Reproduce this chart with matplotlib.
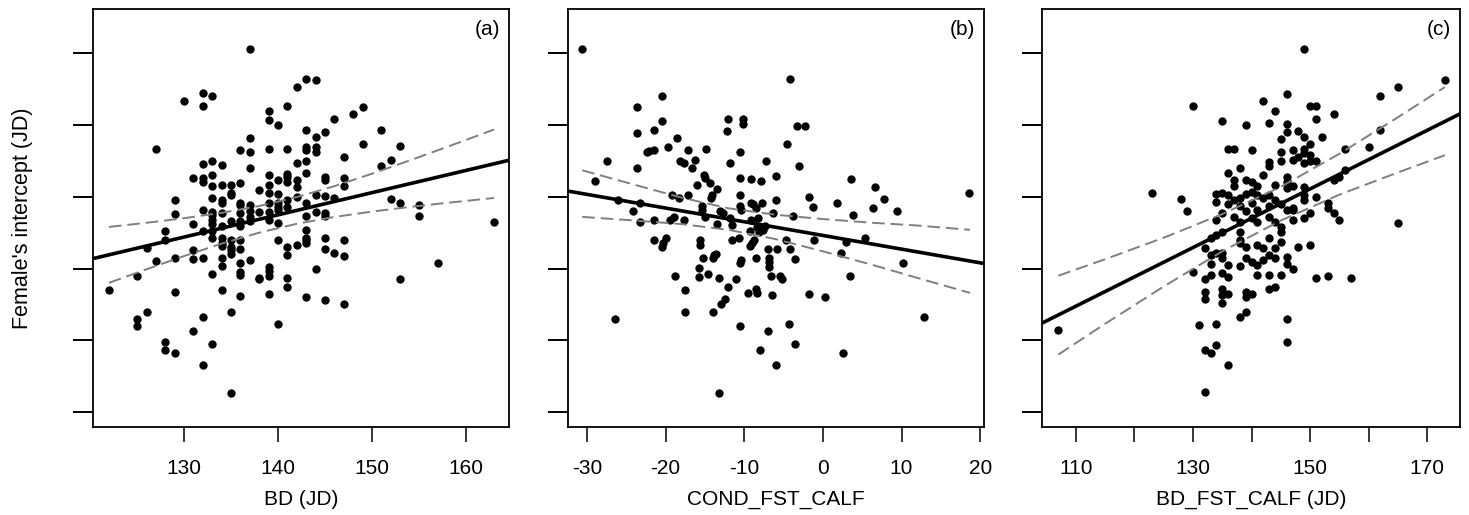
import matplotlib

matplotlib.use("Agg")
import matplotlib.pyplot as plt

plt.rcParams["font.family"] = ["Liberation Sans", "DejaVu Sans"]
plt.rcParams["axes.unicode_minus"] = False

# ---- panel (a): BD (JD) vs female's intercept ----
a_bd = [
    122,
    125, 125, 125,
    126, 126,
    127, 127,
    128, 128, 128, 128,
    129, 129, 129, 129, 129,
    130,
    131, 131, 131, 131, 131,
    132, 132, 132, 132, 132, 132, 132, 132, 132, 132,
    133, 133, 133, 133, 133, 133, 133, 133, 133, 133, 133, 133, 133,
    134, 134, 134, 134, 134, 134, 134, 134, 134, 134, 134, 134,
    135, 135, 135, 135, 135, 135, 135, 135, 135, 135,
    136, 136, 136, 136, 136, 136, 136, 136, 136, 136, 136, 136, 136,
    137, 137, 137, 137, 137, 137, 137, 137, 137,
    138, 138, 138, 138,
    139, 139, 139, 139, 139, 139, 139, 139, 139, 139, 139, 139, 139,
    140, 140, 140, 140, 140, 140, 140, 140, 140,
    141, 141, 141, 141, 141, 141, 141, 141, 141, 141, 141,
    142, 142, 142, 142, 142, 142,
    143, 143, 143, 143, 143, 143, 143, 143, 143, 143, 143, 143, 143,
    144, 144, 144, 144, 144, 144, 144,
    145, 145, 145, 145, 145, 145, 145, 145, 145,
    146, 146, 146,
    147, 147, 147, 147, 147, 147,
    148,
    149, 149,
    151, 151,
    152, 152,
    153, 153, 153,
    155, 155,
    157,
    163,
]
a_fem = [
    -3.0,
    -1.0, -7.0, -8.0,
    2.8, -6.0,
    16.7, 1.0,
    5.3, 4.0, -10.2, -11.3,
    9.6, 7.6, 1.5, -3.3, -11.8,
    23.3,
    12.6, 6.2, 2.6, 1.3, -8.7,
    24.5, 22.7, 14.6, 12.6, 12.1, 8.1, 5.3, 1.5, -6.7, -13.5,
    24.0, 15.0, 13.0, 11.5, 9.8, 7.9, 7.4, 6.7, 6.2, 5.3, 4.3, -0.7, -10.5,
    14.4, 11.7, 9.5, 9.1, 7.7, 5.9, 4.3, 3.5, 3.1, 1.5, 0.4, -3.0,
    11.7, 10.5, 10.2, 6.6, 4.0, 3.0, 2.6, 2.0, -6.0, -17.3,
    16.5, 11.9, 9.2, 8.8, 7.7, 6.6, 5.9, 4.0, 2.7, 0.8, -0.5, -0.9, -3.8,
    30.6, 18.2, 16.2, 14.0, 8.8, 8.0, 7.2, 6.6, 1.2,
    11.0, 7.9, -1.3, -1.5,
    22.0, 20.7, 16.6, 13.0, 11.7, 10.5, 9.2, 7.9, 6.7, 0.2, -0.3, -1.1, -3.5,
    20.0, 12.3, 10.4, 9.1, 8.6, 8.1, 6.4, 4.0, -7.7,
    22.7, 16.6, 13.2, 12.8, 12.0, 9.5, 8.6, 3.0, 1.9, -1.3, -2.6,
    25.3, 14.7, 12.3, 11.4, 10.0, 3.3,
    26.5, 19.3, 17.0, 16.5, 15.0, 13.3, 9.2, 7.3, 5.4, 4.3, 4.0, 3.5, -4.0,
    26.3, 18.4, 17.0, 16.3, 10.2, 7.9, 0.0,
    19.0, 12.8, 12.3, 10.1, 7.7, 7.3, 4.3, 2.7, -4.4,
    20.9, 9.8, 2.2,
    15.5, 12.6, 11.5, 4.0, 1.8, -4.9,
    21.5,
    22.5, 17.3,
    19.3, 14.3,
    15.2, 9.7,
    17.1, 9.1, -1.4,
    8.9, 7.3,
    0.8,
    6.5,
]
a_fit = [(120.35, 1.4), (164.6, 15.1)]
a_band_x = [122, 126, 130, 134, 138, 142, 146, 150, 154, 158, 163]
a_band_hi = [5.80, 6.38, 7.02, 7.77, 8.72, 9.96, 11.49, 13.22, 15.06, 16.96, 19.38]
a_band_lo = [-2.00, -0.10, 1.74, 3.47, 5.00, 6.24, 7.19, 7.94, 8.58, 9.16, 9.84]

# ---- panel (b): COND_FST_CALF vs female's intercept ----
b_cond = [
    -30.6, -29.0, -27.5, -26.4, -26.0, -24.2, -23.6, -23.6, -23.6, -23.3,
    -23.2, -22.3, -22.1, -21.5, -21.5, -21.5, -21.5, -20.5, -20.5, -20.5,
    -20.3, -19.9, -19.7, -19.5, -19.2, -18.9, -18.8, -18.5, -18.3, -18.2,
    -17.7, -17.6, -17.5, -17.5, -17.2, -17.2, -16.6, -16.3, -16.0, -15.8,
    -15.8, -15.6, -15.6, -15.4, -15.4, -15.2, -15.1, -15.0, -15.0, -14.8,
    -14.6, -14.4, -14.2, -14.1, -14.0, -14.0, -13.8, -13.6, -13.5, -13.4,
    -13.2, -13.2, -13.1, -13.0, -12.7, -12.5, -12.2, -12.1, -12.0, -11.8,
    -11.8, -11.6, -11.5, -11.0, -10.7, -10.6, -10.5, -10.5, -10.5, -10.5,
    -10.5, -10.4, -10.4, -10.2, -10.2, -9.5, -9.3, -9.3, -9.2, -9.1,
    -9.1, -9.0, -8.9, -8.8, -8.5, -8.5, -8.5, -8.4, -8.4, -8.2,
    -8.1, -8.0, -7.9, -7.7, -7.6, -7.4, -7.2, -7.0, -7.0, -6.9,
    -6.9, -6.8, -6.6, -6.5, -6.3, -6.0, -5.9, -5.9, -5.8, -5.5,
    -5.2, -4.7, -4.5, -4.3, -4.2, -4.2, -3.8, -3.5, -3.5, -3.3,
    -3.0, -2.3, -1.7, -1.7, -1.2, -1.1, 0.3, 1.8, 2.3, 2.5,
    3.0, 3.5, 3.6, 3.8, 5.4, 6.4, 6.6, 7.8, 9.4, 10.2,
    12.8, 18.6,
]
b_fem = [
    30.6, 12.2, 15.0, -7.0, 9.5, 8.0, 22.5, 18.9, 14.0, 9.1,
    6.5, 16.3, 16.4, 19.3, 16.5, 6.7, 4.0, 24.0, 20.6, 3.0,
    3.5, 4.3, 17.0, 6.7, 10.2, 7.2, -1.1, 18.2, 9.8, 15.0,
    14.7, 6.8, -3.0, -6.0, 16.5, 10.2, 14.0, 15.2, 11.7, 0.1,
    -1.2, 3.3, 4.0, 8.7, 8.1, 1.5, 13.0, 12.6, 7.2, 16.7,
    -0.7, 11.9, 9.8, 10.2, -6.0, 1.5, 1.9, 2.0, 6.2, 11.1,
    -1.3, -17.3, 8.0, -4.9, 7.7, -4.3, 19.2, 20.9, -2.6, 14.7,
    7.0, 6.1, 4.0, -1.5, 4.3, 0.8, -8.0, 12.6, 10.3, 16.3,
    8.7, 1.2, 8.2, 20.8, 20.2, -3.4, 5.3, 3.1, 6.7, 12.5,
    9.1, 3.5, 9.0, 4.0, 8.4, 1.4, -2.9, -3.4, 5.8, 7.1,
    5.1, -11.3, 12.2, 9.2, 5.4, 5.9, 15.0, -8.7, 2.7, 1.5,
    0.2, 0.9, -1.0, -3.7, 7.8, 9.6, 12.9, -13.5, 2.7, -1.0,
    -1.4, 4.0, 17.3, -7.7, 2.7, 26.5, 7.3, -10.5, 1.3, 19.9,
    14.3, 19.9, -3.6, 10.0, 8.6, 4.0, -4.0, 9.1, 2.2, -11.8,
    3.7, -1.1, 12.5, 7.5, 4.3, 8.5, 11.4, 9.7, 8.0, 0.8,
    -6.7, 10.5,
]
b_fit = [(-32.4, 10.8), (20.5, 0.7)]
b_band_x = [-30.6, -24, -18, -12, -6, 0, 6, 12, 18.7]
b_band_hi = [13.7, 11.7, 9.9, 8.4, 7.5, 6.9, 6.4, 6.0, 5.4]
b_band_lo = [7.2, 6.7, 6.2, 5.4, 4.1, 2.4, 0.6, -1.3, -3.4]

# ---- panel (c): BD_FST_CALF (JD) vs female's intercept ----
c_bd = [
    107,
    123,
    128,
    129,
    130, 130,
    131,
    132, 132, 132, 132, 132, 132,
    133, 133, 133, 133, 133,
    134, 134, 134, 134, 134, 134, 134,
    135, 135, 135, 135, 135, 135, 135, 135, 135, 135,
    136, 136, 136, 136, 136, 136, 136, 136,
    137, 137, 137, 137, 137,
    138, 138, 138, 138, 138, 138, 138, 138, 138,
    139, 139, 139, 139, 139, 139, 139, 139, 139,
    140, 140, 140, 140, 140, 140, 140,
    141, 141, 141, 141, 141, 141, 141,
    142, 142, 142, 142, 142,
    143, 143, 143, 143, 143, 143, 143, 143, 143, 143,
    144, 144, 144, 144, 144, 144, 144,
    145, 145, 145, 145, 145, 145, 145, 145,
    146, 146, 146, 146, 146, 146, 146, 146, 146, 146, 146,
    147, 147, 147, 147, 147, 147, 147,
    148, 148, 148,
    149, 149, 149, 149, 149, 149, 149, 149, 149,
    150, 150, 150, 150, 150, 150,
    151, 151, 151, 151, 151,
    152,
    153, 153, 153,
    154, 154, 154,
    155, 155,
    156, 156,
    157,
    160,
    162, 162,
    165, 165,
    173,
]
c_fem = [
    -8.6,
    10.5,
    9.7,
    8.0,
    22.7, -0.5,
    -7.9,
    -17.2, -11.3, 2.8, -1.5, -3.3, -4.3,
    -11.8, 4.2, 1.9, 0.7, -0.9,
    -10.6, -7.7, 10.4, 9.3, 6.7, 4.7, 2.1,
    20.6, 10.5, 7.7, 5.1, 2.1, 1.4, -0.6, -2.9, -3.7, -4.8,
    -13.5, 16.6, 13.3, 10.2, 9.0, 0.5, -1.2, -3.6,
    16.6, 12.4, 11.5, 9.6, 7.2,
    -6.7, 14.0, 9.9, 8.7, 6.5, 5.1, 3.5, 4.0, 0.3,
    -6.0, 20.0, 12.4, 10.4, 8.0, 3.0, 1.4, -3.3, -4.0,
    16.5, 12.1, 10.7, 9.1, 7.0, 0.9, -3.5,
    11.5, 10.2, 8.1, 6.5, 3.3, 0.5, -0.9,
    23.3, 13.0, 9.8, 2.8, 1.2,
    20.3, 14.9, 14.3, 10.2, 8.7, 7.2, 4.2, 1.9, -0.9, -2.9,
    22.0, 11.6, 9.5, 6.5, 2.8, 1.4, -2.6,
    18.1, 16.3, 15.0, 9.0, 5.8, 3.7, 5.1, -0.9,
    -7.0, -10.3, 24.4, 20.1, 19.0, 12.8, 12.1, 11.3, 8.1, 1.6, 0.6,
    16.5, 15.2, 11.5, 8.4, 8.1, 6.7, 0.0,
    19.2, 15.5, 3.0,
    30.6, 18.3, 16.7, 16.1, 14.7, 11.4, 10.2, 9.5, 7.1,
    22.7, 17.4, 15.8, 15.0, 7.7, 3.3,
    22.7, 20.9, 15.0, 10.0, -1.3,
    18.3,
    9.1, 8.4, -1.1,
    21.5, 12.4, 7.8,
    12.7, 6.7,
    16.6, 13.8,
    -1.3,
    17.0,
    24.0, 19.3,
    25.3, 6.3,
    26.3,
]
c_fit = [(104.3, -7.58), (175.5, 21.53)]
c_band_x = [107, 115, 125, 135, 145, 155, 165, 173]
c_band_hi = [-1.0, 1.3, 4.3, 7.6, 11.4, 16.0, 21.1, 25.3]
c_band_lo = [-12.0, -7.7, -2.5, 2.4, 6.7, 10.3, 13.4, 15.8]

y_ticks = [-20, -10, 0, 10, 20, 30]

panels = [
    dict(x=a_bd, y=a_fem, fit=a_fit, bx=a_band_x, bhi=a_band_hi, blo=a_band_lo,
         xlim=(120.3, 164.6), xticks=[130, 140, 150, 160],
         xticklabels=["130", "140", "150", "160"], xlabel="BD (JD)", tag="(a)",
         pos=[0.0633, 0.1709, 0.2832, 0.8117]),
    dict(x=b_cond, y=b_fem, fit=b_fit, bx=b_band_x, bhi=b_band_hi, blo=b_band_lo,
         xlim=(-32.4, 20.5), xticks=[-30, -20, -10, 0, 10, 20],
         xticklabels=["-30", "-20", "-10", "0", "10", "20"], xlabel="COND_FST_CALF", tag="(b)",
         pos=[0.3867, 0.1709, 0.2832, 0.8117]),
    dict(x=c_bd, y=c_fem, fit=c_fit, bx=c_band_x, bhi=c_band_hi, blo=c_band_lo,
         xlim=(104.2, 175.6), xticks=[110, 120, 130, 140, 150, 160, 170],
         xticklabels=["110", "", "130", "", "150", "", "170"], xlabel="BD_FST_CALF (JD)", tag="(c)",
         pos=[0.7093, 0.1709, 0.2846, 0.8117]),
]

fig = plt.figure(figsize=(14.69, 5.15), dpi=100)

for p in panels:
    ax = fig.add_axes(p["pos"])
    ax.plot(p["x"], p["y"], "o", color="black", markersize=6, markeredgewidth=0, zorder=3)
    ax.axline(p["fit"][0], p["fit"][1], color="black", linewidth=2.6, zorder=4)
    for band in (p["bhi"], p["blo"]):
        ax.plot(p["bx"], band, color="#7f7f7f", linewidth=1.4, dashes=(6.5, 3.0), zorder=5)

    ax.set_xlim(*p["xlim"])
    ax.set_ylim(-22.1, 36.2)
    ax.set_xticks(p["xticks"])
    ax.set_xticklabels(p["xticklabels"])
    ax.set_yticks(y_ticks)
    ax.set_yticklabels([])
    ax.tick_params(axis="x", length=10.8, width=1.1, pad=12, labelsize=15)
    ax.tick_params(axis="y", length=14.4, width=1.4)
    for s in ax.spines.values():
        s.set_linewidth(1.3)
    ax.set_xlabel(p["xlabel"], fontsize=15)
    ax.xaxis.set_label_coords(0.5, -0.15)
    ax.text(0.978, 0.974, p["tag"], transform=ax.transAxes, ha="right", va="top", fontsize=15)

fig.text(23 / 1469, 0.5767, "Female's intercept (JD)", rotation=90, ha="center", va="center", fontsize=15.5)

fig.savefig("out.png", dpi=100)
